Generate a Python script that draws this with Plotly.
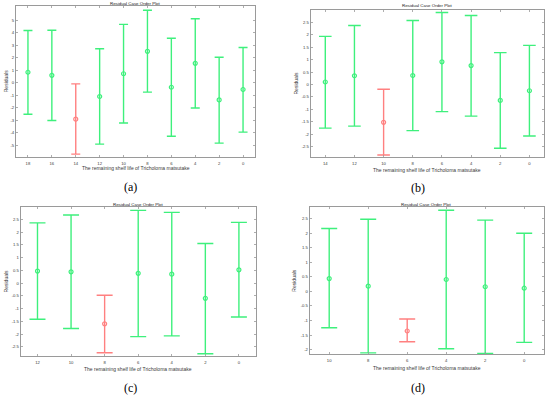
import plotly.graph_objects as go

# ---------------- data ----------------
title_text = "Residual Case Order Plot"
xlabel_text = "The remaining shelf life of Tricholoma matsutake"
ylabel_text = "Residuals"
panel_tags = ["(a)", "(b)", "(c)", "(d)"]

a_shelf = ["18", "16", "14", "12", "10", "8", "6", "4", "2", "0"]
a_resid = [0.85, 0.60, -2.90, -1.09, 0.73, 2.52, -0.35, 1.56, -1.36, -0.53]
a_upper = [4.18, 4.20, -0.08, 2.72, 4.67, 5.80, 3.56, 5.12, 2.05, 2.83]
a_lower = [-2.50, -3.00, -5.69, -4.89, -3.21, -0.74, -4.26, -2.01, -4.81, -3.93]
a_yticks = [-5, -4, -3, -2, -1, 0, 1, 2, 3, 4, 5]

b_shelf = ["14", "12", "10", "8", "6", "4", "2", "0"]
b_resid = [0.10, 0.35, -1.52, 0.36, 0.91, 0.76, -0.64, -0.25]
b_upper = [1.93, 2.37, -0.19, 2.57, 2.89, 2.77, 1.28, 1.57]
b_lower = [-1.75, -1.67, -2.83, -1.85, -1.09, -1.27, -2.56, -2.07]
b_yticks = [-2.5, -2, -1.5, -1, -0.5, 0, 0.5, 1, 1.5, 2, 2.5]

c_shelf = ["12", "10", "8", "6", "4", "2", "0"]
c_resid = [0.47, 0.44, -1.60, 0.38, 0.35, -0.60, 0.52]
c_upper = [2.36, 2.67, -0.48, 2.85, 2.77, 1.55, 2.38]
c_lower = [-1.42, -1.78, -2.73, -2.10, -2.07, -2.77, -1.33]
c_yticks = [-2.5, -2, -1.5, -1, -0.5, 0, 0.5, 1, 1.5, 2, 2.5]

d_shelf = ["10", "8", "6", "4", "2", "0"]
d_resid = [0.44, 0.18, -1.36, 0.41, 0.16, 0.11]
d_upper = [2.16, 2.48, -0.95, 2.79, 2.45, 2.00]
d_lower = [-1.25, -2.11, -1.73, -1.97, -2.13, -1.75]
d_yticks = [-2, -1.5, -1, -0.5, 0, 0.5, 1, 1.5, 2, 2.5]

def fmt(v):
    return "%g" % v  # plain hyphen minus as in the original

# ---------------- layout / style ----------------
W, H = 550, 397
GREEN = "#3ef07c"
RED = "#ff8080"
AXC = "#9a9a9a"
TXT = "#3a3a3a"
SANS = "Liberation Sans, Arial, sans-serif"
SERIF = "Liberation Serif, Times New Roman, serif"

panels = [
    dict(shelf=a_shelf, resid=a_resid, up=a_upper, lo=a_lower, yt=a_yticks,
         box=(16, 6, 255, 156.5), yr=(-5.88, 6.14), cap=4.5,
         title_y=3.6, xlab_y=168, ylab_x=6, tag=(130.5, 187)),
    dict(shelf=b_shelf, resid=b_resid, up=b_upper, lo=b_lower, yt=b_yticks,
         box=(310.7, 10, 544, 157), yr=(-2.91, 2.99), cap=6.3,
         title_y=5.6, xlab_y=170, ylab_x=295, tag=(418, 188)),
    dict(shelf=c_shelf, resid=c_resid, up=c_upper, lo=c_lower, yt=c_yticks,
         box=(20.7, 207.3, 255.7, 355.5), yr=(-2.84, 2.97), cap=8,
         title_y=204, xlab_y=369, ylab_x=6, tag=(130, 388)),
    dict(shelf=d_shelf, resid=d_resid, up=d_upper, lo=d_lower, yt=d_yticks,
         box=(309.7, 207.3, 543.7, 354), yr=(-2.15, 2.89), cap=8,
         title_y=204.6, xlab_y=368, ylab_x=294, tag=(418, 387.5)),
]

fig = go.Figure()
annotations = []
layout_axes = {}

for i, p in enumerate(panels):
    k = "" if i == 0 else str(i + 1)
    xa, ya = "x" + k, "y" + k
    l, t, r, b = p["box"]
    xdom = [l / W, r / W]
    ydom = [1 - b / H, 1 - t / H]

    # points whose interval excludes zero are drawn red (outliers)
    for is_out, col in ((False, GREEN), (True, RED)):
        xs, ys, ep, em = [], [], [], []
        for s, c, u, lo in zip(p["shelf"], p["resid"], p["up"], p["lo"]):
            out = (lo > 0) or (u < 0)
            if out == is_out:
                xs.append(s)
                ys.append(c)
                ep.append(u - c)
                em.append(c - lo)
        if not xs:
            continue
        fig.add_trace(go.Scatter(
            x=xs, y=ys, xaxis=xa, yaxis=ya, mode="markers",
            marker=dict(symbol="circle-open", size=4, color=col, line=dict(width=1.2, color=col)),
            error_y=dict(type="data", symmetric=False, array=ep, arrayminus=em,
                         color=col, thickness=1.4, width=p["cap"]),
            showlegend=False, hoverinfo="skip"))

    n = len(p["shelf"])
    common = dict(showline=True, mirror="allticks", linecolor=AXC, linewidth=1,
                  ticks="inside", ticklen=2, tickcolor=AXC, tickwidth=0.8,
                  showgrid=False, zeroline=False,
                  tickfont=dict(family=SANS, size=4.2, color=TXT))
    layout_axes["xaxis" + k] = dict(domain=xdom, anchor=ya, type="category",
                                    categoryorder="array", categoryarray=p["shelf"],
                                    range=[-0.5, n - 0.5], ticklabelstandoff=2, **common)
    layout_axes["yaxis" + k] = dict(domain=ydom, anchor=xa, range=list(p["yr"]),
                                    tickvals=p["yt"], ticktext=[fmt(v) for v in p["yt"]],
                                    **common)

    cx = (l + r) / 2
    annotations.append(dict(text=title_text, x=cx / W, y=1 - p["title_y"] / H,
                            xref="paper", yref="paper", showarrow=False,
                            xanchor="center", yanchor="middle",
                            font=dict(family=SANS, size=4.4, color="#222")))
    annotations.append(dict(text=xlabel_text, x=cx / W, y=1 - p["xlab_y"] / H,
                            xref="paper", yref="paper", showarrow=False,
                            xanchor="center", yanchor="middle",
                            font=dict(family=SANS, size=5, color=TXT)))
    annotations.append(dict(text=ylabel_text, x=p["ylab_x"] / W, y=1 - ((t + b) / 2) / H,
                            xref="paper", yref="paper", showarrow=False, textangle=-90,
                            xanchor="center", yanchor="middle",
                            font=dict(family=SANS, size=5, color=TXT)))
    tx, ty = p["tag"]
    annotations.append(dict(text=panel_tags[i], x=tx / W, y=1 - ty / H,
                            xref="paper", yref="paper", showarrow=False,
                            xanchor="center", yanchor="middle",
                            font=dict(family=SERIF, size=12, color="#000")))

fig.update_layout(width=W, height=H, margin=dict(l=0, r=0, t=0, b=0),
                  paper_bgcolor="white", plot_bgcolor="white",
                  annotations=annotations, **layout_axes)

fig.write_html("out.html",
               config={"displayModeBar": False, "staticPlot": True},
               post_script="document.body.style.margin='0';document.body.style.padding='0';"
                           "document.body.style.overflow='hidden';")
